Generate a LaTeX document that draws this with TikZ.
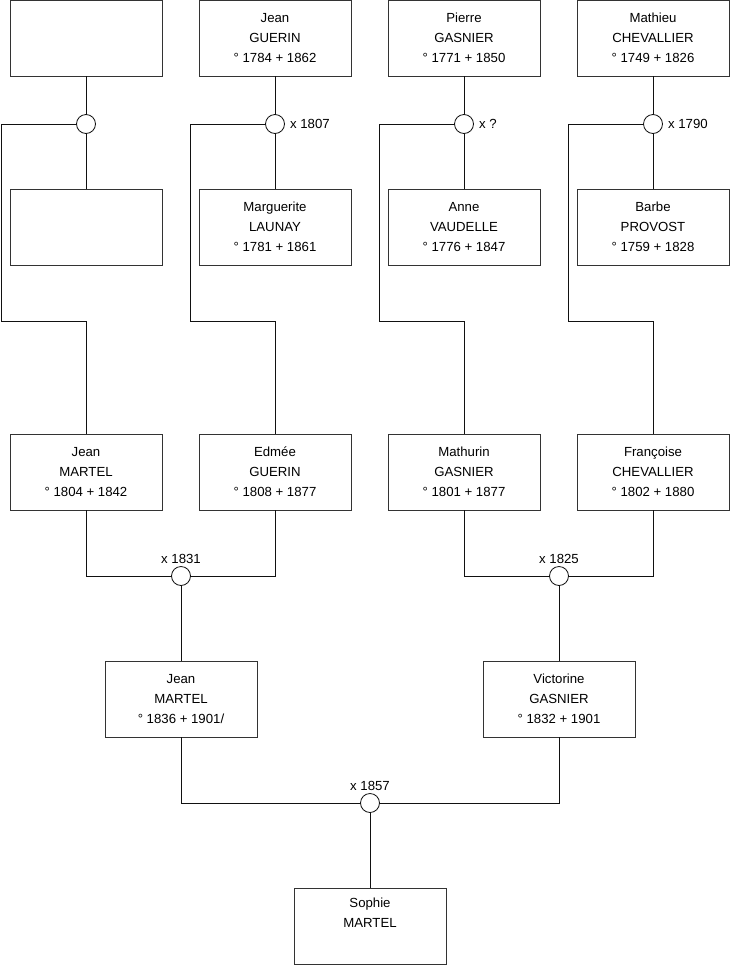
\documentclass[tikz,border=0pt]{standalone}
\usepackage{fontspec}
\setmainfont{Liberation Sans}
\usepackage{tikz}
\usepackage{xcolor}
\usetikzlibrary{positioning}
\definecolor{cBox}{HTML}{333333}
\definecolor{cLink}{HTML}{111111}

\begin{document}
\begin{tikzpicture}[x=1pt, y=-1pt,
    person/.style={draw=cBox, fill=white, line width=0.8pt, minimum width=152pt,
                   minimum height=76pt, inner sep=0pt, align=center,
                   font=\fontsize{13.2}{20}\selectfont},
    union/.style={circle, draw=cLink, fill=white, line width=0.8pt,
                  minimum size=19pt, inner sep=0pt},
    link/.style={draw=cLink, line width=0.8pt},
    wedding/.style={font=\fontsize{13.2}{15}\selectfont, inner sep=1pt}]
  \useasboundingbox (0,0) rectangle (740,975);

  % great-grandparents
  \node[person] (gp1) at (86,38)  {};
  \node[person] (gp2) at (275,38) {Jean\\GUERIN\\° 1784 + 1862};
  \node[person] (gp3) at (464,38) {Pierre\\GASNIER\\° 1771 + 1850};
  \node[person] (gp4) at (653,38) {Mathieu\\CHEVALLIER\\° 1749 + 1826};
  \node[person] (gm1) at (86,227)  {};
  \node[person] (gm2) at (275,227) {Marguerite\\LAUNAY\\° 1781 + 1861};
  \node[person] (gm3) at (464,227) {Anne\\VAUDELLE\\° 1776 + 1847};
  \node[person] (gm4) at (653,227) {Barbe\\PROVOST\\° 1759 + 1828};
  \foreach \i/\x in {1/86, 2/275, 3/464, 4/653}{
    \node[union] (u\i) at (\x,124) {};
    \draw[link] (gp\i) -- (u\i) -- (gm\i);
  }
  \node[wedding, right=4pt of u2] {x 1807};
  \node[wedding, right=4pt of u3] {x ?};
  \node[wedding, right=4pt of u4] {x 1790};

  % grandparents
  \node[person] (jean)   at (86,472)  {Jean\\MARTEL\\° 1804 + 1842};
  \node[person] (edmee)  at (275,472) {Edmée\\GUERIN\\° 1808 + 1877};
  \node[person] (mathur) at (464,472) {Mathurin\\GASNIER\\° 1801 + 1877};
  \node[person] (franc)  at (653,472) {Françoise\\CHEVALLIER\\° 1802 + 1880};
  \draw[link] (u1.west) -| (1,321) -| (jean.north);
  \draw[link] (u2.west) -| (190,321) -| (edmee.north);
  \draw[link] (u3.west) -| (379,321) -| (mathur.north);
  \draw[link] (u4.west) -| (568,321) -| (franc.north);

  % parents
  \node[union] (u5) at (181,576) {};
  \node[union] (u6) at (559,576) {};
  \node[wedding, above=1pt of u5] {x 1831};
  \node[wedding, above=1pt of u6] {x 1825};
  \draw[link] (jean.south) |- (u5.west);
  \draw[link] (edmee.south) |- (u5.east);
  \draw[link] (mathur.south) |- (u6.west);
  \draw[link] (franc.south) |- (u6.east);
  \node[person] (jean2) at (181,699) {Jean\\MARTEL\\° 1836 + 1901/};
  \node[person] (vict)  at (559,699) {Victorine\\GASNIER\\° 1832 + 1901};
  \draw[link] (u5) -- (jean2);
  \draw[link] (u6) -- (vict);

  % child
  \node[union] (u7) at (370,803) {};
  \node[wedding, above=1pt of u7] {x 1857};
  \draw[link] (jean2.south) |- (u7.west);
  \draw[link] (vict.south) |- (u7.east);
  \node[person] (sophie) at (370,926) {Sophie\\MARTEL\\\strut};
  \draw[link] (u7) -- (sophie);
\end{tikzpicture}
\end{document}
